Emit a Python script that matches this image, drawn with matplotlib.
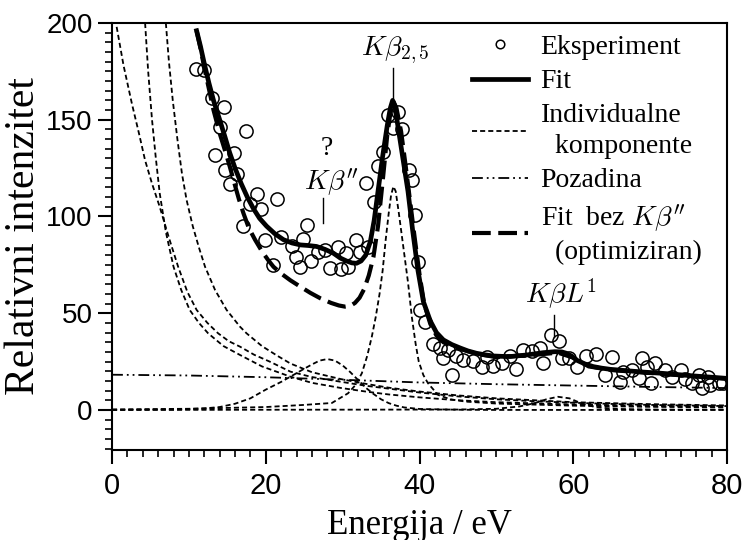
import matplotlib
matplotlib.use('Agg')
import matplotlib.pyplot as plt
from matplotlib.ticker import MultipleLocator

plt.rcParams['mathtext.fontset'] = 'cm'
plt.rcParams['font.family'] = ['Liberation Serif', 'DejaVu Serif']

# ---------------- data ----------------
exp_x = [10.9, 12.0, 13.0, 13.4, 14.0, 14.5, 14.7, 15.3, 15.9, 16.3, 17.0, 17.4, 18.0, 18.9,
         19.4, 19.9, 20.9, 21.4, 22.0, 23.4, 23.9, 24.4, 24.9, 25.4, 25.9, 26.8, 27.7, 28.3,
         29.4, 29.8, 30.4, 30.7, 31.8, 32.2, 33.1, 33.3, 34.1, 34.6, 35.3, 35.9, 36.6, 37.2,
         37.7, 38.6, 39.0, 39.4, 39.8, 40.1, 40.7, 41.7, 42.7, 43.0, 43.7, 44.2, 44.7, 45.7,
         47.0, 48.1, 48.8, 49.6, 50.7, 51.8, 52.6, 53.5, 54.6, 55.7, 56.1, 57.1, 58.1, 58.5,
         59.5, 60.5, 61.7, 63.0, 64.1, 65.0, 66.1, 66.5, 67.7, 68.5, 68.9, 69.6, 70.1, 70.6,
         71.9, 72.8, 74.0, 74.5, 75.4, 76.3, 76.7, 77.5, 77.8, 78.9, 79.5]
exp_y = [176.0, 175.5, 161.0, 132.0, 146.0, 156.5, 124.0, 117.0, 133.0, 122.0, 95.0, 144.0, 106.5, 111.5,
         104.0, 88.0, 75.0, 109.2, 89.2, 84.8, 79.3, 73.8, 88.2, 95.5, 77.0, 81.5, 82.8, 73.5,
         84.2, 73.0, 81.0, 74.0, 87.7, 81.5, 117.5, 84.0, 107.3, 126.0, 133.3, 152.5, 145.6, 154.2,
         145.0, 124.0, 119.0, 101.0, 76.6, 51.5, 45.6, 34.2, 31.9, 26.7, 31.0, 17.8, 27.9, 25.8,
         25.5, 22.4, 27.4, 22.8, 24.5, 27.9, 21.0, 31.2, 30.5, 32.0, 24.3, 38.8, 35.8, 27.0,
         26.7, 22.4, 27.9, 29.0, 18.1, 27.6, 14.2, 19.4, 20.7, 16.4, 26.7, 22.4, 14.1, 24.1,
         20.7, 17.2, 20.7, 15.8, 13.8, 18.1, 11.5, 17.2, 12.9, 13.8, 14.1]

fit_x = [11.0, 11.5, 12.0, 12.6, 13.2, 14.0, 14.7, 15.3, 16.0, 16.8, 17.6, 18.4, 19.2, 20.1,
         21.2, 22.3, 23.4, 24.5, 25.5, 26.6, 27.7, 28.8, 29.7, 30.5, 31.2, 31.8, 32.4, 33.0,
         33.6, 34.1, 34.5, 35.2, 35.8, 36.2, 36.5, 36.8, 37.1, 37.8, 38.5, 39.1, 39.8, 40.5,
         41.4, 42.2, 43.1, 44.2, 45.3, 46.3, 47.4, 48.5, 49.6, 50.7, 51.8, 52.9, 53.9, 55.0,
         56.1, 57.6, 58.5, 59.1, 59.8, 60.4, 61.5, 62.6, 63.7, 64.8, 66.9, 69.0, 71.3, 73.5,
         75.6, 77.7, 80.0]
fit_y = [196.0, 188.0, 179.0, 169.0, 160.0, 150.0, 141.0, 133.0, 125.0, 117.0, 110.0, 104.0, 99.0, 95.0,
         91.0, 88.0, 86.3, 85.3, 85.0, 84.5, 83.0, 81.0, 78.5, 77.0, 76.0, 75.8, 77.0, 80.0,
         87.0, 98.0, 110.0, 131.0, 147.0, 156.0, 160.0, 157.0, 149.0, 131.0, 113.0, 93.0, 72.0, 56.0,
         46.0, 40.0, 36.2, 33.8, 32.0, 30.5, 29.3, 28.5, 27.9, 27.7, 27.6, 28.0, 28.4, 29.0,
         29.6, 30.1, 30.0, 29.3, 27.8, 25.8, 23.8, 22.4, 21.6, 21.0, 20.3, 19.6, 19.0, 18.3,
         17.6, 17.0, 16.3]

bez_x = [11.0, 11.5, 12.0, 12.6, 13.2, 14.0, 14.7, 15.3, 16.0, 16.5, 17.1, 17.8, 18.6, 19.5,
         20.3, 21.0, 22.0, 23.2, 24.5, 25.8, 27.1, 28.5, 29.5, 30.3, 31.0, 31.6, 32.2, 32.8,
         33.4, 34.0, 34.6, 35.2, 35.8, 36.3, 36.6, 37.0, 37.6, 38.2, 38.8, 39.4, 40.0, 40.6,
         41.4, 42.2, 43.1, 44.2, 45.3, 47.4, 50.0, 55.0, 58.0, 60.0, 62.0, 65.0, 70.0, 75.0, 80.0]
bez_y = [196.0, 187.0, 177.0, 166.0, 155.0, 143.0, 134.0, 126.0, 116.0, 109.0, 101.6, 94.0, 88.0, 82.0,
         77.5, 74.0, 70.5, 67.0, 63.7, 60.5, 57.7, 55.3, 54.0, 53.4, 53.8, 55.3, 58.0, 62.5,
         69.5, 79.0, 95.0, 118.0, 142.0, 156.0, 159.5, 156.0, 144.0, 126.0, 107.0, 88.0, 70.0, 55.0,
         44.5, 38.5, 35.0, 33.0, 31.5, 29.0, 27.3, 28.5, 29.6, 27.0, 22.5, 20.6, 19.1, 17.6, 16.1]

bg_x = [0, 10, 20, 30, 40, 50, 60, 70, 80]
bg_y = [18.2, 17.8, 16.9, 15.6, 14.2, 13.3, 12.6, 11.9, 11.3]

tailA_x = [0.6, 1.5, 2.6, 3.5, 4.3, 5.2, 6.2, 7.4, 8.6, 9.8, 11.0, 12.4, 13.8, 15.2, 16.65,
           18.5, 20.5, 23.2, 26.0, 29.7, 33.0, 36.0, 40.0, 45.0, 50.0, 55.0, 60.0, 65.0, 70.0, 75.0, 80.0]
tailA_y = [198.0, 178.0, 158.0, 143.0, 129.0, 117.0, 105.0, 89.0, 74.0, 61.0, 51.7, 45.0, 39.6, 35.5, 32.7,
           28.5, 25.0, 19.8, 17.0, 14.6, 12.5, 11.0, 9.0, 7.0, 5.5, 4.5, 3.7, 3.1, 2.6, 2.3, 2.0]

tailB_x = [4.3, 4.7, 5.2, 5.7, 6.2, 7.0, 8.0, 9.0, 10.1, 11.3, 12.5, 14.5, 16.65, 19.5, 23.2,
           26.0, 29.7, 33.0, 36.0, 40.0, 45.0, 50.0, 60.0, 70.0, 80.0]
tailB_y = [200.0, 175.0, 150.0, 130.0, 112.0, 92.0, 74.0, 62.0, 51.7, 45.0, 39.6, 33.0, 28.4, 22.5, 17.2,
           14.0, 11.4, 9.5, 8.0, 6.5, 5.0, 4.0, 2.8, 2.1, 1.7]

tailC_x = [7.0, 7.4, 7.9, 8.5, 9.1, 9.7, 10.5, 11.3, 12.1, 13.4, 14.9, 16.65, 17.5, 19.5, 21.5,
           23.2, 26.0, 29.7, 33.0, 36.0, 40.0, 45.0, 50.0, 60.0, 70.0, 80.0]
tailC_y = [200.0, 180.0, 160.0, 140.0, 122.0, 108.5, 95.0, 84.0, 74.0, 62.0, 51.7, 43.0, 39.6, 33.0, 28.0,
           24.0, 19.5, 16.0, 13.5, 11.5, 9.5, 7.5, 6.0, 4.0, 3.0, 2.3]

kbpp_x = [0, 8, 12, 14, 16, 18, 20, 22, 24, 25, 26, 27, 28, 29, 30, 31, 32, 33, 34, 35, 36,
          37, 38, 40, 45, 50, 80]
kbpp_y = [0.0, 0.2, 0.8, 1.5, 3.2, 6.0, 10.5, 14.5, 19.0, 21.3, 23.5, 25.5, 26.3, 25.5, 23.0, 19.5,
          15.5, 11.5, 8.3, 5.5, 3.5, 2.2, 1.3, 0.5, 0.1, 0.0, 0.0]

kb25_x = [0, 10, 20, 25, 28.6, 30.7, 31.7, 32.5, 33.2, 33.8, 34.3, 34.8, 35.2, 35.6, 36.0, 36.3,
          36.6, 36.9, 37.3, 37.7, 38.1, 38.5, 39.0, 39.5, 39.9, 40.5, 41.1, 42.4, 44.0, 46.0,
          50.0, 60.0, 70.0, 80.0]
kb25_y = [0.3, 0.6, 1.5, 2.6, 3.6, 8.6, 13.0, 19.0, 28.0, 38.0, 48.0, 60.0, 72.0, 88.0, 102.0, 111.0,
          115.5, 113.0, 102.0, 90.0, 78.0, 66.0, 48.0, 34.0, 25.0, 18.0, 13.8, 7.8, 5.5, 4.3,
          3.3, 2.2, 1.6, 1.3]

kbl1_x = [0, 45, 50, 53, 55, 56.5, 58, 59.5, 61, 63, 66, 70, 80]
kbl1_y = [0.0, 0.2, 0.6, 1.8, 3.5, 5.5, 6.8, 6.0, 3.5, 1.3, 0.5, 0.2, 0.1]

xticks = [0, 20, 40, 60, 80]
yticks = [0, 50, 100, 150, 200]

# ---------------- figure ----------------
fig = plt.figure(figsize=(7.42, 5.40), dpi=100)
ax = fig.add_axes([0.151, 0.1667, 0.8288, 0.7907])

comp_style = dict(color='black', lw=1.3, dashes=(2.8, 1.7), zorder=2)
h_comp, = ax.plot(tailA_x, tailA_y, **comp_style)
ax.plot(tailB_x, tailB_y, **comp_style)
ax.plot(tailC_x, tailC_y, **comp_style)
ax.plot(kbpp_x, kbpp_y, **comp_style)
ax.plot(kb25_x, kb25_y, **comp_style)
ax.plot(kbl1_x, kbl1_y, **comp_style)

h_bg, = ax.plot(bg_x, bg_y, color='black', lw=1.3,
                dashes=(6, 2.2, 1.0, 2.2, 1.0, 2.2), zorder=2)
h_bez, = ax.plot(bez_x, bez_y, color='black', lw=3.0, dashes=(4.5, 1.8), zorder=3)
h_fit, = ax.plot(fit_x, fit_y, color='black', lw=3.4, zorder=4)
h_exp, = ax.plot(exp_x, exp_y, 'o', ms=9.5, mfc='none', mec='black', mew=1.1, zorder=5)

# annotations
ax.text(36.8, 186, r'$K\beta_{2,5}$', ha='center', va='center', fontsize=20)
ax.plot([36.5, 36.5], [161, 176.7], color='black', lw=1.0)
ax.text(27.9, 135, '?', ha='center', va='center', fontsize=20)
ax.text(28.5, 118, r"$K\beta''$", ha='center', va='center', fontsize=20)
ax.plot([27.5, 27.5], [96.6, 109.5], color='black', lw=1.0)
ax.text(58.4, 60, r'$K\beta L^1$', ha='center', va='center', fontsize=20)
ax.plot([57.5, 57.5], [37.7, 49], color='black', lw=1.0)

ax.set_xlim(0, 80)
ax.set_ylim(-20.7, 200)
ax.set_xticks(xticks)
ax.set_yticks(yticks)
ax.xaxis.set_minor_locator(MultipleLocator(2))
ax.yaxis.set_minor_locator(MultipleLocator(5))
ax.tick_params(which='major', direction='out', length=10, width=1.5, top=False, right=False)
ax.tick_params(which='minor', direction='out', length=5, width=1.2, top=False, right=False)
ax.tick_params(axis='y', which='major', pad=4)
ax.tick_params(axis='x', which='major', pad=6)
for lab in ax.get_xticklabels():
    lab.set_fontfamily(['Liberation Sans', 'DejaVu Sans'])
    lab.set_fontsize(21)
for lab in ax.get_yticklabels():
    lab.set_fontfamily(['Liberation Sans', 'DejaVu Sans'])
    lab.set_fontsize(20)
for sp in ax.spines.values():
    sp.set_linewidth(1.5)

ax.set_xlabel('Energija / eV', fontsize=25, labelpad=6)
ax.set_ylabel('Relativni intenzitet', fontsize=30, labelpad=2)

leg = ax.legend([h_exp, h_fit, h_comp, h_bg, h_bez],
                ['Eksperiment', 'Fit', 'Individualne\n  komponente', 'Pozadina',
                 "Fit  bez $K\\beta''$\n  (optimiziran)"],
                loc='upper left', bbox_to_anchor=(0.55, 1.025), frameon=False,
                fontsize=20, markerscale=0.65, handlelength=2.0, handletextpad=0.45,
                labelspacing=0.32, borderpad=0.3)
for t in leg.get_texts():
    t.set_linespacing(1.3)

fig.savefig('out.png', dpi=100)
